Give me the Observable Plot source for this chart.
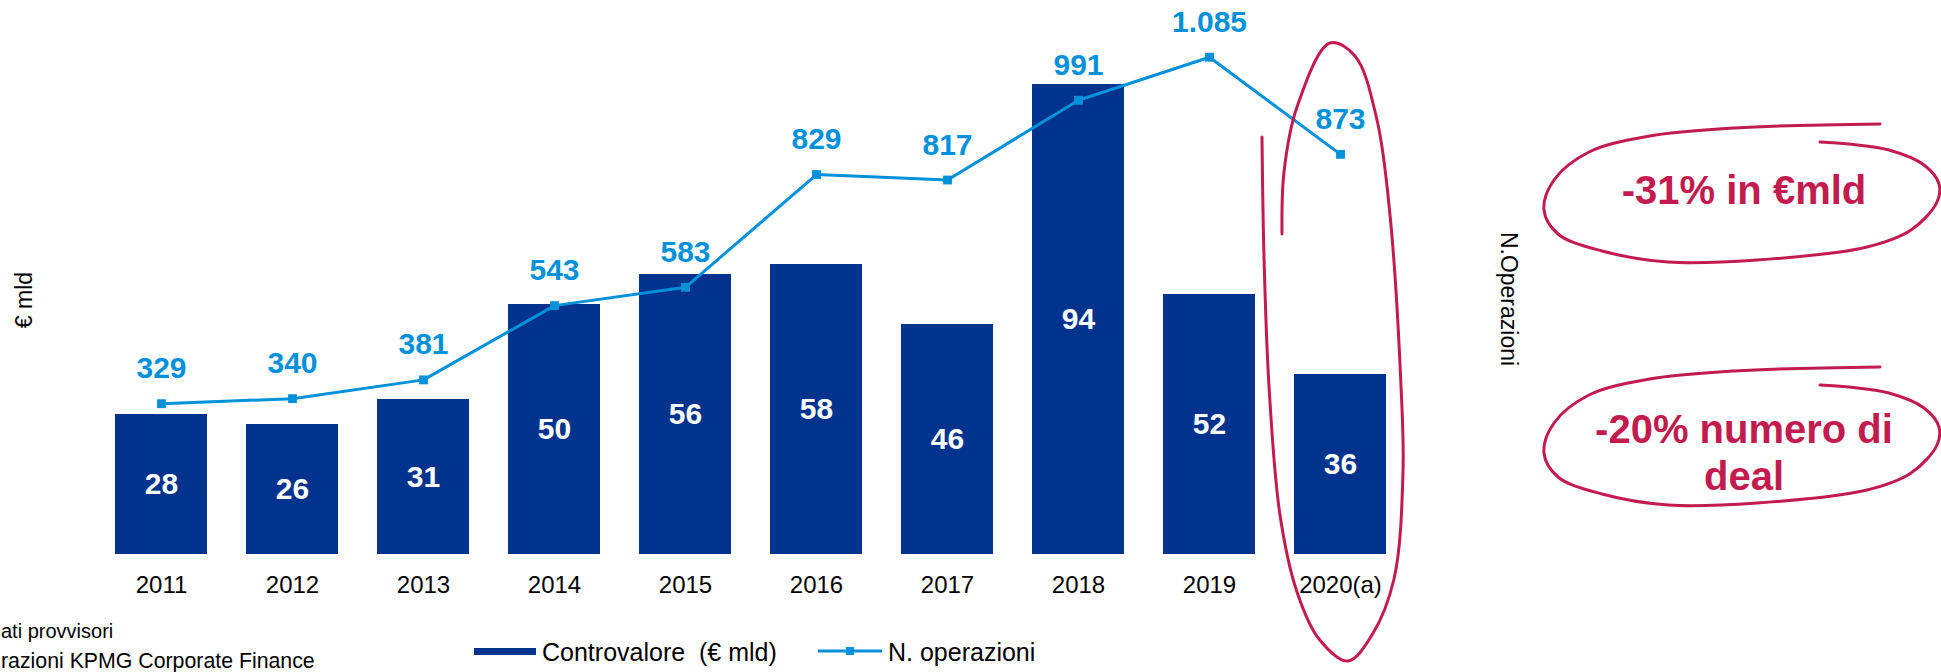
<!DOCTYPE html>
<html>
<head>
<meta charset="utf-8">
<script src="https://cdn.jsdelivr.net/npm/d3@7"></script>
<script src="https://cdn.jsdelivr.net/npm/@observablehq/plot@0.6"></script>
<style>
  body { margin: 0; background: #fff; }
  #wrap { position: relative; width: 1941px; height: 672px; overflow: hidden; background: #fff;
          font-family: "Liberation Sans", Arial, Helvetica, sans-serif; }
  #wrap > svg.overlay { position: absolute; left: 0; top: 0; pointer-events: none; }
  #chart { position: absolute; left: 0; top: 0; }
</style>
</head>
<body>
<div id="wrap"><div id="chart"></div></div>
<script>
// ---- data ----
const years = ["2011", "2012", "2013", "2014", "2015", "2016", "2017", "2018", "2019", "2020(a)"];
const controvalore = [28, 26, 31, 50, 56, 58, 46, 94, 52, 36];          // € mld
const operazioni = [329, 340, 381, 543, 583, 829, 817, 991, 1085, 873];  // N. operazioni
const operazioniLabels = ["329", "340", "381", "543", "583", "829", "817", "991", "1.085", "873"];
const barAxisMax = 110;    // left axis (€ mld)
const lineAxisMax = 1200;  // right axis (N. operazioni)

// ---- texts ----
const barAxisTitle = "€ mld";
const lineAxisTitle = "N.Operazioni";
const legendBar = "Controvalore  (€ mld)";
const legendLine = "N. operazioni";
const note1 = "ati provvisori";
const note2 = "razioni KPMG Corporate Finance";
const callout1 = ["-31% in €mld"];
const callout2 = ["-20% numero di", "deal"];

// ---- styles ----
const NAVY = "#00338D", CYAN = "#0091DA", RED = "#C21B4F";
const FONT = '"Liberation Sans", Arial, Helvetica, sans-serif';

const rows = years.map((y, i) => ({year: y, v: controvalore[i], n: operazioni[i], nl: operazioniLabels[i]}));
const k = barAxisMax / lineAxisMax; // secondary-axis mapping onto the shared y scale

const chart = Plot.plot({
  width: 1941,
  height: 610,
  marginLeft: 73,
  marginRight: 514,
  marginTop: 4,
  marginBottom: 56,
  style: {fontFamily: FONT, fontSize: "24px", color: "#000", background: "transparent", overflow: "visible"},
  x: {domain: years, padding: 0.3, label: null},
  y: {domain: [0, barAxisMax], axis: null},
  marks: [
    Plot.barY(rows, {x: "year", y: "v", fill: NAVY}),
    Plot.text(rows, {x: "year", y: d => d.v / 2, text: d => String(d.v), fill: "#fff",
                     fontWeight: "bold", fontSize: 30}),
    Plot.line(rows, {x: "year", y: d => d.n * k, stroke: CYAN, strokeWidth: 3}),
    Plot.dot(rows, {x: "year", y: d => d.n * k, symbol: "square", r: 5, fill: CYAN, stroke: "none"}),
    Plot.text(rows, {x: "year", y: d => d.n * k, text: "nl", dy: -35, fill: CYAN,
                     fontWeight: "bold", fontSize: 30}),
    Plot.axisX({tickSize: 0, tickPadding: 21, fontSize: 24, label: null, fill: "#000"})
  ]
});
document.getElementById("chart").appendChild(chart);

// ---- overlay: axis titles, legend, notes, hand-drawn callouts ----
const xs = chart.scale("x");
const bw = xs.bandwidth;
const cx2020 = xs.apply("2020(a)") + bw / 2;

const svg = d3.select("#wrap").append("svg").attr("class", "overlay")
  .attr("width", 1941).attr("height", 672)
  .style("font-family", FONT);

// axis titles
svg.append("text").attr("transform", "translate(24,300) rotate(-90)")
  .attr("text-anchor", "middle").attr("dominant-baseline", "central")
  .attr("font-size", 23).attr("fill", "#000").text(barAxisTitle);
svg.append("text").attr("transform", "translate(1509,299) rotate(90)")
  .attr("text-anchor", "middle").attr("dominant-baseline", "central")
  .attr("font-size", 23).attr("fill", "#000").text(lineAxisTitle);

// legend
const lg = svg.append("g");
lg.append("rect").attr("x", 474).attr("y", 648).attr("width", 62).attr("height", 7).attr("fill", NAVY);
lg.append("text").attr("x", 542).attr("y", 652).attr("dominant-baseline", "central")
  .attr("font-size", 25).attr("fill", "#000").style("white-space", "pre").attr("xml:space", "preserve").text(legendBar);
lg.append("line").attr("x1", 818).attr("x2", 882).attr("y1", 651).attr("y2", 651)
  .attr("stroke", CYAN).attr("stroke-width", 3);
lg.append("rect").attr("x", 846).attr("y", 647).attr("width", 8).attr("height", 8).attr("fill", CYAN);
lg.append("text").attr("x", 888).attr("y", 652).attr("dominant-baseline", "central")
  .attr("font-size", 25).attr("fill", "#000").text(legendLine);

// notes at the left edge
svg.append("text").attr("x", 1).attr("y", 638)
  .attr("font-size", 20).attr("fill", "#000").text(note1);
svg.append("text").attr("x", 1).attr("y", 668)
  .attr("font-size", 21.3).attr("fill", "#000").text(note2);

// hand-drawn strokes
const curve = d3.line().curve(d3.curveCatmullRom.alpha(0.5));
const loop2020 = [[-78,137],[-76,257],[-71,386],[-60,515],[-43,592],[-21,639],[8,661],[32,635],[54,579],
  [63,472],[61,386],[50,215],[37,120],[15,56],[-10,43],[-43,107],[-56,172],[-58,234]]
  .map(([dx, y]) => [cx2020 + dx, y]);
svg.append("path").attr("d", curve(loop2020)).attr("fill", "none")
  .attr("stroke", RED).attr("stroke-width", 3).attr("stroke-linecap", "round");

const bubble = [[1880,124],[1735,128],[1647,136.5],[1589,152],[1554,180],[1544,210],[1558,234],[1602,251],
  [1668,262],[1757,260],[1867,247],[1911,230],[1937,202],[1939,184],[1924,165],[1889,150],[1849,144],[1820,142]];
[0, 243].forEach(off => {
  svg.append("path").attr("d", curve(bubble.map(([x, y]) => [x, y + off]))).attr("fill", "none")
    .attr("stroke", RED).attr("stroke-width", 3).attr("stroke-linecap", "round");
});

svg.append("text").attr("x", 1744).attr("y", 190).attr("text-anchor", "middle")
  .attr("dominant-baseline", "central").attr("font-size", 40).attr("font-weight", "bold")
  .attr("fill", RED).text(callout1[0]);
callout2.forEach((t, i) => {
  svg.append("text").attr("x", 1744).attr("y", 429 + i * 47).attr("text-anchor", "middle")
    .attr("dominant-baseline", "central").attr("font-size", 40).attr("font-weight", "bold")
    .attr("fill", RED).text(t);
});
</script>
</body>
</html>
